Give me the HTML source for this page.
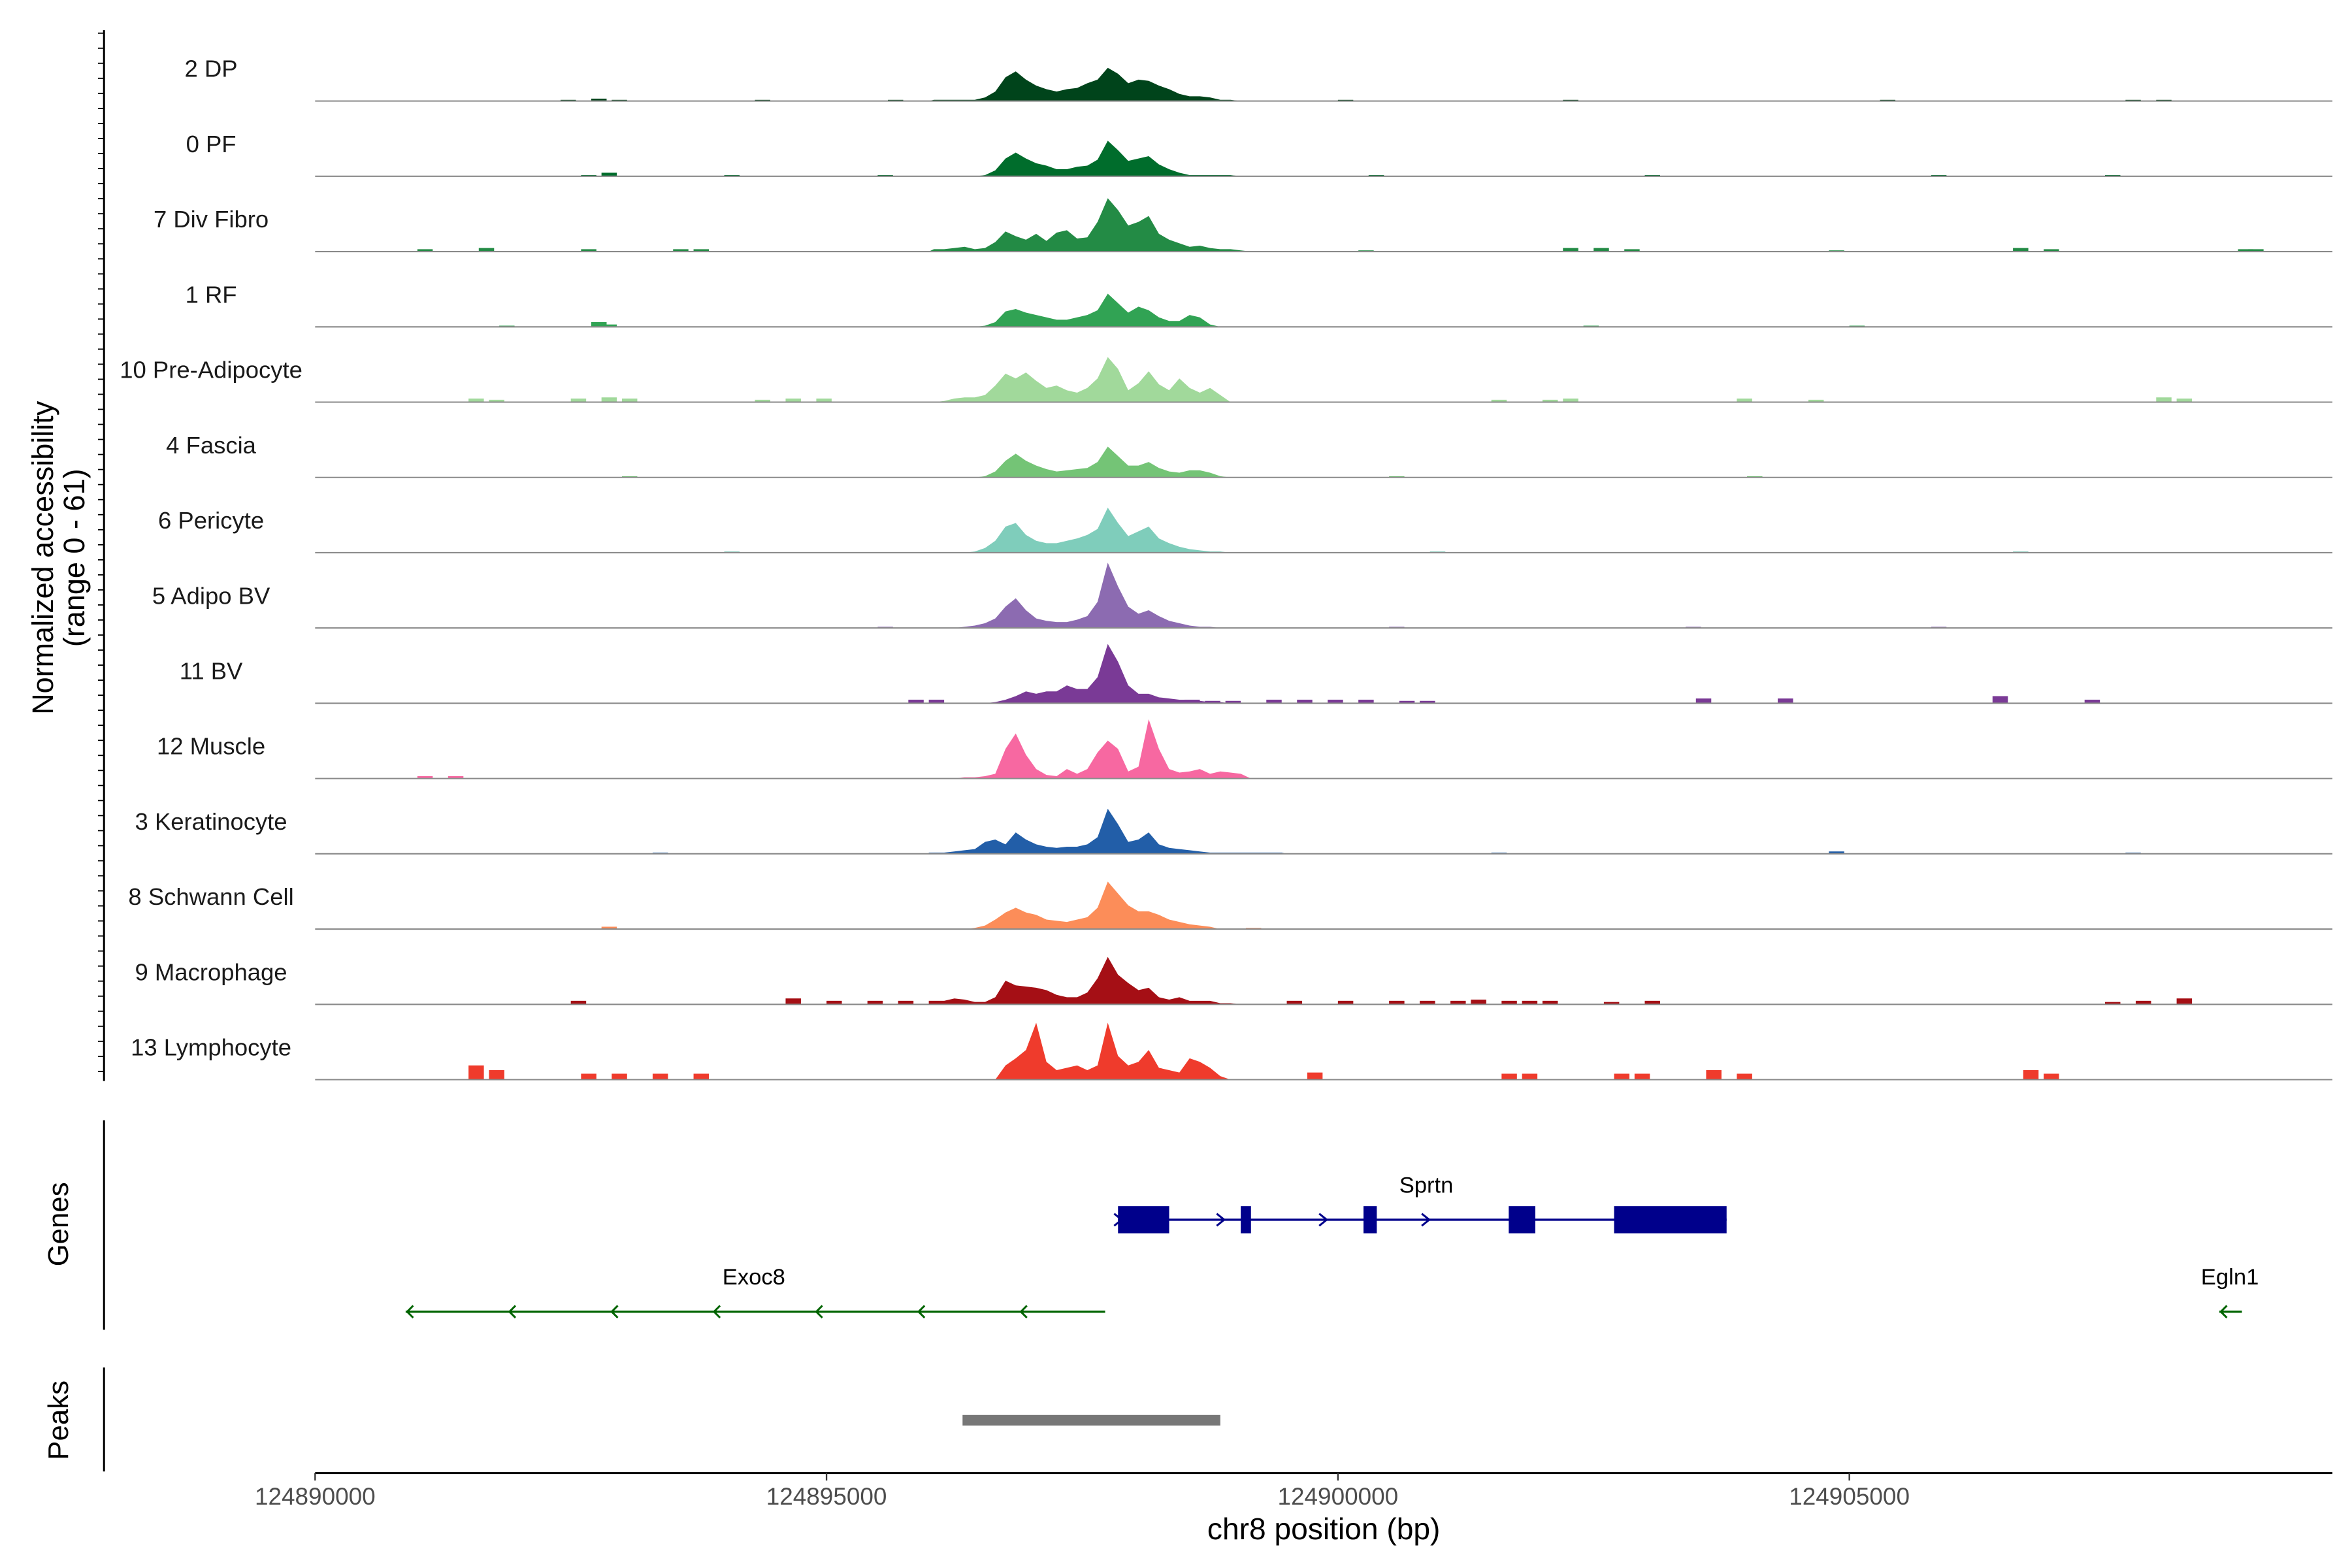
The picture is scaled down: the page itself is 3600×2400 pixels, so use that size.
<!DOCTYPE html>
<html><head><meta charset="utf-8"><style>
html,body{margin:0;padding:0;background:#fff}
svg{display:block}
text{font-family:"Liberation Sans",Arial,sans-serif}
</style></head><body>
<svg id="chart" width="3600" height="2400" viewBox="0 0 1560 1040" xmlns="http://www.w3.org/2000/svg">
<g id="tracks"></g>
<g id="axes"></g>
</svg>
<script>
const trackNames = ["2 DP","0 PF","7 Div Fibro","1 RF","10 Pre-Adipocyte","4 Fascia","6 Pericyte","5 Adipo BV","11 BV","12 Muscle","3 Keratinocyte","8 Schwann Cell","9 Macrophage","13 Lymphocyte"];
const trackColors = ["#00441b","#006d2c","#238b45","#31a354","#a1d99b","#74c476","#7fcdbb","#8c6bb1","#7a3a96","#f768a1","#225ea8","#fc8d59","#a50f15","#ef3b2c"];
const binStart = 124896000;
const binSize = 100;
const coreValues = [
[1,1,1,1,1,3,8,20,25,18,13,10,8,10,11,15,18,28,23,15,18,17,13,10,6,4,4,3,1,1,0,0,0,0,0],
[0,0,0,0,0,1,5,15,20,15,11,9,6,6,8,9,14,30,22,13,15,17,10,6,3,1,1,1,1,1,0,0,0,0,0],
[2,2,3,4,2,3,8,17,13,10,15,9,16,18,11,12,25,45,35,22,25,30,15,10,7,4,5,3,2,2,1,0,0,0,0],
[0,0,0,0,0,1,4,13,15,12,10,8,6,6,8,10,14,28,20,12,17,14,8,5,5,10,8,2,0,0,0,0,0,0,0],
[0,1,3,4,4,6,14,24,20,25,18,12,14,10,8,12,20,38,28,10,16,26,15,10,20,12,8,12,6,0,0,0,0,0,0],
[0,0,0,0,0,1,5,14,20,14,10,7,5,6,7,8,13,26,18,10,10,13,8,5,4,6,6,4,1,0,0,0,0,0,0],
[0,0,0,0,1,4,10,22,25,15,10,8,8,10,12,15,20,38,25,14,18,22,12,8,5,3,2,1,1,0,0,0,0,0,0],
[0,0,0,1,2,4,8,18,25,15,8,6,5,5,7,10,22,55,35,18,12,15,10,6,4,2,1,1,0,0,0,0,0,0,0],
[0,0,0,0,0,0,1,3,6,10,8,10,10,15,12,12,22,50,35,15,8,8,5,4,3,3,2,1,1,0,0,0,0,0,0],
[0,0,0,1,1,2,4,25,38,20,8,3,2,8,4,8,22,32,25,6,10,50,25,8,5,6,8,4,6,5,4,0,0,0,0],
[1,1,2,3,4,10,12,8,18,12,8,6,5,6,6,8,14,38,25,10,12,18,8,5,4,3,2,1,1,1,1,1,1,1,1],
[0,0,0,0,1,3,8,14,18,14,12,8,7,6,8,10,18,40,30,20,15,15,12,8,6,4,3,2,0,0,0,0,0,0,0],
[1,3,5,4,2,2,6,20,16,15,14,12,8,6,6,10,22,40,25,18,12,14,6,4,6,3,3,3,1,1,0,0,0,0,0],
[0,0,0,0,0,0,0,12,18,25,48,15,8,10,12,8,12,48,20,12,15,25,10,8,6,18,15,10,3,0,0,0,0,0,0]
];
const blipPos = [
[2.4,2.7,2.9,4.3,5.6,10.0,12.2,15.3,17.7,18.0],
[2.6,2.8,4.0,5.5,10.3,13.0,15.8,17.5],
[1.0,1.6,2.6,3.5,3.7,10.2,12.2,12.5,12.8,14.8,16.6,16.9,18.8,18.9],
[1.8,2.7,2.8,7.3,12.4,15.0],
[1.5,1.7,2.5,2.8,3.0,4.3,4.6,4.9,11.5,12.0,12.2,13.9,14.6,18.0,18.2],
[3.0,10.5,14.0],
[4.0,10.9,16.6],
[5.5,10.5,13.4,15.8],
[5.8,6.0,8.5,8.7,8.9,9.3,9.6,9.9,10.2,10.6,10.8,13.5,14.3,16.4,17.3],
[1.0,1.3],
[3.3,6.0,11.5,14.8,17.7],
[2.8,6.5,9.1],
[2.5,4.6,5.0,5.4,5.7,6.0,9.5,10.0,10.5,10.8,11.1,11.3,11.6,11.8,12.0,12.6,13.0,17.5,17.8,18.2],
[1.5,1.7,2.6,2.9,3.3,3.7,9.7,11.6,11.8,12.7,12.9,13.6,13.9,16.7,16.9]
];
const blipVal = [
[1,2,1,1,1,1,1,1,1,1],
[1,3,1,1,1,1,1,1],
[2,3,2,2,2,1,3,3,2,1,3,2,2,2],
[1,4,2,1,1,1],
[3,2,3,4,3,2,3,3,2,2,3,3,2,4,3],
[1,1,1],
[1,1,1],
[1,1,1,1],
[3,3,3,2,2,3,3,3,3,2,2,4,4,6,3],
[2,2],
[1,1,1,2,1],
[2,1,1],
[3,5,3,3,3,3,3,3,3,3,3,4,3,3,3,2,3,2,3,5],
[12,8,5,5,5,5,6,5,5,5,5,8,5,8,5]
];
const xTicks = [124890000,124895000,124900000,124905000];
const sprtnExons = [[124897850,124898350],[124899050,124899150],[124900250,124900380],[124901670,124901930],[124902700,124903800]];
const exoc8Arrows = [124890900,124891900,124892900,124893900,124894900,124895900,124896900];
const peakRegion = [124896330,124898850];

const NS="http://www.w3.org/2000/svg";
const X0=209, X1=1547, BP0=124890000, PXPERBP=339.2/5000;
const xs = bp => X0 + (bp-BP0)*PXPERBP;
const TRACK_TOP=67, TRACK_STEP=49.93, YMAX=61, TRACK_H=48;
const ys = (i,v) => TRACK_TOP + i*TRACK_STEP - v/YMAX*TRACK_H;
function mk(tag, attrs, parent){const e=document.createElementNS(NS,tag);for(const k in attrs)e.setAttribute(k,attrs[k]);parent.appendChild(e);return e;}
const tracks=document.getElementById('tracks');
const axes=document.getElementById('axes');

trackNames.forEach((name,i)=>{
  const g=mk('g',{},tracks);
  
  
  const base=ys(i,0);
  let d='M'+xs(binStart)+','+base;
  coreValues[i].forEach((v,j)=>{
    const xc=xs(binStart+(j+0.5)*binSize);
    d+=' L'+xc+','+ys(i,v);
  });
  d+=' L'+xs(binStart+coreValues[i].length*binSize)+','+base+' Z';
  const p=mk('path',{d:d,fill:trackColors[i]},g);
  
  
  blipPos[i].forEach((kb,j)=>{
    const bp=BP0+kb*1000;
    const r=mk('rect',{x:xs(bp),y:ys(i,blipVal[i][j]),width:xs(bp+150)-xs(bp),height:base-ys(i,blipVal[i][j]),fill:trackColors[i]},g);
    
    
  });
  const bl=mk('line',{x1:X0,x2:X1,y1:base,y2:base,stroke:'#8a8a8a','stroke-width':0.9},g);
  
  
  const t=mk('text',{x:140,y:base-16,'text-anchor':'middle','font-size':15.8,fill:'#1a1a1a'},g);
  t.textContent=name;
  
  
});

function vline(y1,y2,name){const l=mk('line',{x1:69,x2:69,y1:y1,y2:y2,stroke:'#000','stroke-width':1.3},axes);}
vline(20,717,'y-axis-line');
for(let y=22;y<=716;y+=9.98){const l=mk('line',{x1:65,x2:69,y1:y,y2:y,stroke:'#000','stroke-width':0.8},axes);}
vline(743,882,'genes-axis-line');
vline(907,976,'peaks-axis-line');
function rtext(x,y,s,name,size){const t=mk('text',{x:0,y:0,transform:'translate('+x+','+y+') rotate(-90)','text-anchor':'middle','font-size':size,fill:'#000'},axes);t.textContent=s;}
rtext(35,370,'Normalized accessibility','y-axis-title',19.5);
rtext(56,370,'(range 0 - 61)','y-axis-range',19.5);
rtext(45,812,'Genes','genes-title',19);
rtext(45,942,'Peaks','peaks-title',19);

const gg=mk('g',{},axes);


const sy=809;
mk('line',{x1:xs(sprtnExons[0][0]),x2:xs(sprtnExons[4][1]),y1:sy,y2:sy,stroke:'#00008b','stroke-width':1.5},gg);
sprtnExons.forEach(e=>{const r=mk('rect',{x:xs(e[0]),y:sy-9,width:xs(e[1])-xs(e[0]),height:18,fill:'#00008b'},gg);});
[742,810,878,946].forEach(x=>mk('path',{d:'M'+(x-3)+','+(sy-4)+' L'+(x+2)+','+sy+' L'+(x-3)+','+(sy+4),fill:'none',stroke:'#00008b','stroke-width':1.3},gg));
let t=mk('text',{x:946,y:791,'text-anchor':'middle','font-size':15,fill:'#000'},gg);t.textContent='Sprtn';
const ey=870;
mk('line',{x1:xs(exoc8Arrows[0])-1,x2:733,y1:ey,y2:ey,stroke:'#006400','stroke-width':1.5},gg);
exoc8Arrows.forEach(bp=>{const x=xs(bp);mk('path',{d:'M'+(x+4)+','+(ey-4)+' L'+x+','+ey+' L'+(x+4)+','+(ey+4),fill:'none',stroke:'#006400','stroke-width':1.3},gg);});
t=mk('text',{x:500,y:852,'text-anchor':'middle','font-size':15,fill:'#000'},gg);t.textContent='Exoc8';
mk('line',{x1:1472,x2:1487,y1:ey,y2:ey,stroke:'#006400','stroke-width':1.5},gg);
mk('path',{d:'M1477,'+(ey-4)+' L1473,'+ey+' L1477,'+(ey+4),fill:'none',stroke:'#006400','stroke-width':1.3},gg);
t=mk('text',{x:1479,y:852,'text-anchor':'middle','font-size':15,fill:'#000'},gg);t.textContent='Egln1';

const pk=mk('rect',{x:xs(peakRegion[0]),y:938.5,width:xs(peakRegion[1])-xs(peakRegion[0]),height:7,fill:'#777'},axes);



const xl=mk('line',{x1:X0,x2:X1,y1:977,y2:977,stroke:'#000','stroke-width':1.3},axes);


xTicks.forEach(v=>{
  const tk=mk('line',{x1:xs(v),x2:xs(v),y1:977,y2:982,stroke:'#333','stroke-width':1},axes);
  
  
  const tl=mk('text',{x:xs(v),y:998,'text-anchor':'middle','font-size':16,fill:'#4d4d4d'},axes);
  tl.textContent=String(v);
  
  
});
t=mk('text',{x:878,y:1021,'text-anchor':'middle','font-size':20,fill:'#000'},axes);
t.textContent='chr8 position (bp)';


</script>
</body></html>
